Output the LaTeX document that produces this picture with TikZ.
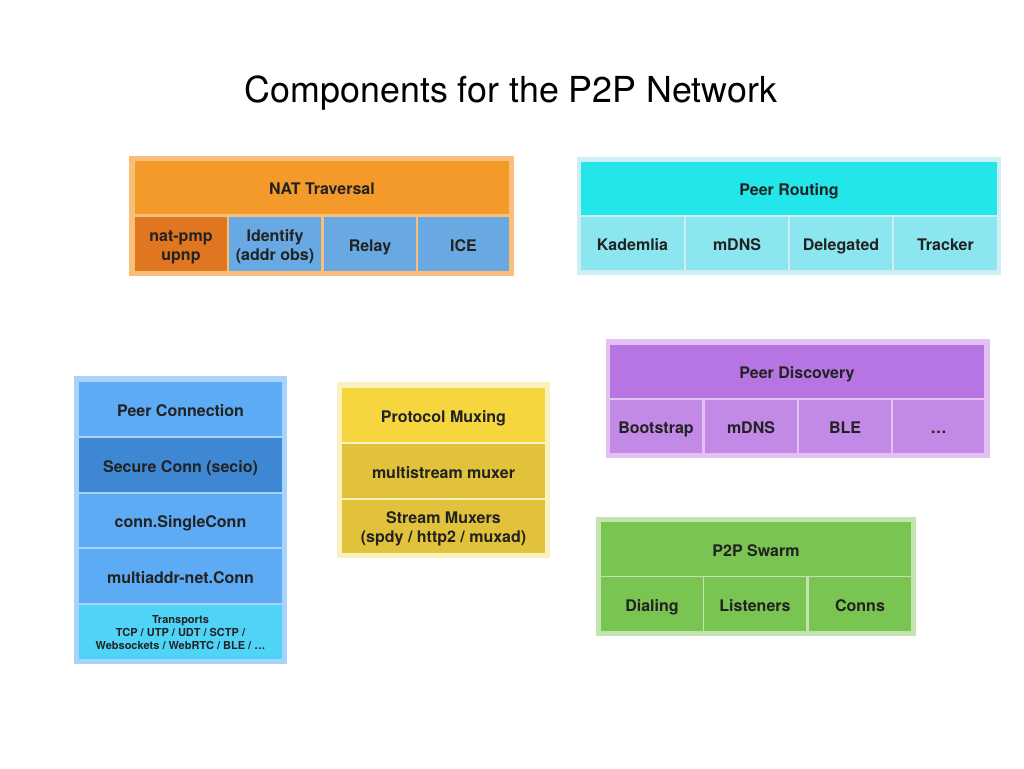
\documentclass[tikz,border=0pt]{standalone}
\usepackage{fontspec}
\setmainfont{TeX Gyre Heros}
% palette
\definecolor{txt}{HTML}{222222}
\definecolor{natFrame}{HTML}{F7BF78}
\definecolor{natHead}{HTML}{F39A2B}
\definecolor{natDark}{HTML}{E07620}
\definecolor{natBlue}{HTML}{69A9E3}
\definecolor{rtFrame}{HTML}{CDEFF3}
\definecolor{rtHead}{HTML}{22E6EA}
\definecolor{rtCell}{HTML}{8BE6EF}
\definecolor{pcFrame}{HTML}{A9D3FA}
\definecolor{pcMain}{HTML}{5DABF5}
\definecolor{pcSecure}{HTML}{3D87D3}
\definecolor{pcTrans}{HTML}{4FD4F8}
\definecolor{pmFrame}{HTML}{FBF1BF}
\definecolor{pmHead}{HTML}{F5D63F}
\definecolor{pmSub}{HTML}{E2C23A}
\definecolor{pdFrame}{HTML}{E3C2F3}
\definecolor{pdHead}{HTML}{B675E3}
\definecolor{pdCell}{HTML}{C28AE6}
\definecolor{swFrame}{HTML}{C3E4B1}
\definecolor{swCell}{HTML}{7AC452}
% \blk{name}{x1}{y1}{x2}{y2}{style}{text}: a box given by its corners
\newcommand\blk[7]{%
  \node[#6,minimum width={(#4-#2)*1pt},minimum height={(#5-#3)*1pt}]
    (#1) at ({(#2+#4)/2},{(#3+#5)/2}) {#7};}
\begin{document}
\begin{tikzpicture}[x=1pt,y=-1pt,
  base/.style={inner sep=0pt,outer sep=0pt,align=center,text=txt,
    font=\bfseries\fontsize{16}{19}\selectfont,
    text height=14.5pt,text depth=0pt},
  two/.style={text height=32.5pt},
  natframe/.style={base,fill=natFrame}, nathead/.style={base,fill=natHead},
  natdark/.style={base,fill=natDark}, natblue/.style={base,fill=natBlue},
  rtframe/.style={base,fill=rtFrame}, rthead/.style={base,fill=rtHead},
  rtcell/.style={base,fill=rtCell},
  pcframe/.style={base,fill=pcFrame}, pcmain/.style={base,fill=pcMain},
  pcsecure/.style={base,fill=pcSecure},
  pctrans/.style={base,fill=pcTrans,font=\bfseries\fontsize{11}{13}\selectfont,
    text height=34pt,text depth=0pt},
  pmframe/.style={base,fill=pmFrame}, pmhead/.style={base,fill=pmHead},
  pmsub/.style={base,fill=pmSub},
  pdframe/.style={base,fill=pdFrame}, pdhead/.style={base,fill=pdHead},
  pdcell/.style={base,fill=pdCell},
  swframe/.style={base,fill=swFrame}, swcell/.style={base,fill=swCell}]
\useasboundingbox[fill=white] (0,0) rectangle (1024,768);

% title
\node[anchor=base,font=\fontsize{35.8}{42}\selectfont,text=black] (title) at (511,102)
  {Components for the P2P Network};

% NAT traversal
\blk{natF}{129}{156}{514}{276}{natframe}{}
\blk{natH}{135}{161}{509}{214}{nathead}{NAT Traversal}
\blk{natA}{135}{217}{227}{271}{natdark,two}{nat-pmp\\upnp}
\blk{natB}{229}{217}{321}{271}{natblue,two}{Identify\\(addr obs)}
\blk{natC}{324}{217}{416}{271}{natblue}{Relay}
\blk{natD}{418}{217}{509}{271}{natblue}{ICE}

% Peer routing
\blk{rtF}{577}{157}{1001}{275}{rtframe}{}
\blk{rtH}{581}{162}{997}{215}{rthead}{Peer Routing}
\blk{rtA}{581}{217}{684}{270}{rtcell}{Kademlia}
\blk{rtB}{686}{217}{788}{270}{rtcell}{mDNS}
\blk{rtC}{790}{217}{892}{270}{rtcell}{Delegated}
\blk{rtD}{894}{217}{997}{270}{rtcell}{Tracker}

% Peer connection stack
\blk{pcF}{74}{376}{287}{664}{pcframe}{}
\blk{pcA}{79}{382}{282}{436}{pcmain}{Peer Connection}
\blk{pcB}{79}{438}{282}{492}{pcsecure}{Secure Conn (secio)}
\blk{pcC}{79}{494}{282}{547}{pcmain}{conn.SingleConn}
\blk{pcD}{79}{549}{282}{603}{pcmain}{multiaddr-net.Conn}
\blk{pcE}{79}{605}{282}{659}{pctrans}{Transports\\TCP / UTP / UDT / SCTP /\\Websockets / WebRTC / BLE / \ldots}

% Protocol muxing
\blk{pmF}{337}{382}{550}{558}{pmframe}{}
\blk{pmA}{342}{388}{545}{442}{pmhead}{Protocol Muxing}
\blk{pmB}{342}{444}{545}{498}{pmsub}{multistream muxer}
\blk{pmC}{342}{500}{545}{553}{pmsub,two}{Stream Muxers\\(spdy / http2 / muxad)}

% Peer discovery
\blk{pdF}{606}{339}{990}{458}{pdframe}{}
\blk{pdH}{610}{345}{984}{398}{pdhead}{Peer Discovery}
\blk{pdA}{610}{400}{702}{453}{pdcell}{Bootstrap}
\blk{pdB}{705}{400}{797}{453}{pdcell}{mDNS}
\blk{pdC}{799}{400}{891}{453}{pdcell}{BLE}
\blk{pdD}{893}{400}{984}{453}{pdcell}{\ldots}

% P2P swarm
\blk{swF}{596}{517}{916}{636}{swframe}{}
\blk{swH}{601}{522}{911}{576}{swcell}{P2P Swarm}
\blk{swA}{601}{577}{703}{631}{swcell}{Dialing}
\blk{swB}{704}{577}{806}{631}{swcell}{Listeners}
\blk{swC}{809}{577}{911}{631}{swcell}{Conns}
\end{tikzpicture}
\end{document}
